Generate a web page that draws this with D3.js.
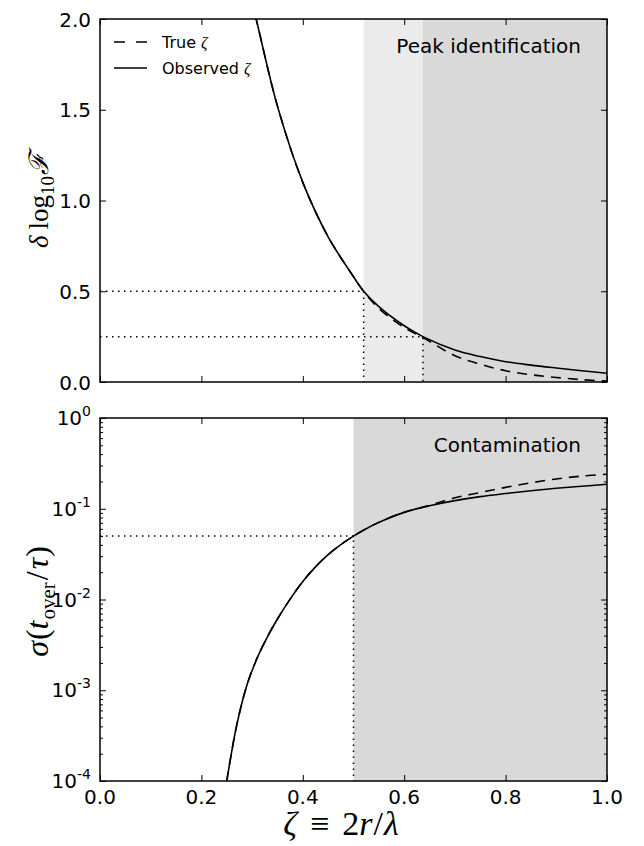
<!DOCTYPE html>
<html>
<head>
<meta charset="utf-8">
<script src="https://cdn.jsdelivr.net/npm/d3@7"></script>
<style>
    body { margin: 0; background: #fff; }
    svg { display: block; }
    .tick-label { font-family: "DejaVu Sans", sans-serif; font-size: 20px; fill: #000; }
    .math { font-family: "Liberation Serif", "DejaVu Serif", serif; fill: #000; }
</style>
</head>
<body>
<div class="chart"></div>
<script>
/* ---------------------------------------------------- +/

## Chart data ##

Values

/+ ---------------------------------------------------- */

// Top panel: delta log10 F against zeta
var topZeta     = [0.29, 0.308, 0.35, 0.40, 0.45, 0.50, 0.52, 0.55, 0.60, 0.637, 0.70, 0.75, 0.80, 0.85, 0.90, 0.95, 1.00];
var topObserved = [2.20, 2.00, 1.52, 1.10, 0.80, 0.58, 0.50, 0.415, 0.31, 0.25, 0.176, 0.140, 0.112, 0.093, 0.077, 0.062, 0.048];
var topTrue     = [2.20, 2.00, 1.52, 1.10, 0.80, 0.58, 0.50, 0.405, 0.30, 0.245, 0.145, 0.098, 0.062, 0.040, 0.025, 0.013, 0.005];

// Bottom panel: sigma(t_over / tau) against zeta
var botZeta     = [0.24, 0.25, 0.27, 0.29, 0.31, 0.33, 0.35, 0.375, 0.40, 0.425, 0.45, 0.475, 0.50, 0.525, 0.55, 0.60, 0.65, 0.70, 0.75, 0.80, 0.85, 0.90, 0.95, 1.00];
var botObserved = [4.2e-5, 1.0e-4, 4.2e-4, 1.15e-3, 2.27e-3, 3.86e-3, 6.1e-3, 1.01e-2, 0.0158, 0.0229, 0.0313, 0.0403, 0.050, 0.0603, 0.0708, 0.0912, 0.108, 0.123, 0.136, 0.147, 0.158, 0.168, 0.177, 0.186];
var botTrue     = [4.2e-5, 1.0e-4, 4.2e-4, 1.15e-3, 2.27e-3, 3.86e-3, 6.1e-3, 1.01e-2, 0.0158, 0.0229, 0.0313, 0.0403, 0.050, 0.0603, 0.0708, 0.0915, 0.109, 0.132, 0.151, 0.172, 0.193, 0.213, 0.229, 0.240];

// Shaded zones and threshold guides
var peakZones   = [[0.52, 1.0], [0.637, 1.0]];
var peakGuides  = [[0.52, 0.5], [0.637, 0.25]];
var contamZone  = [0.5, 1.0];
var contamGuide = [0.5, 0.05];

// Tick labels
var xTicks    = [0.0, 0.2, 0.4, 0.6, 0.8, 1.0];
var topYTicks = [0.0, 0.5, 1.0, 1.5, 2.0];
var botYTicks = [1e-4, 1e-3, 1e-2, 1e-1, 1];

var legendItems = [
    { name: 'True', dash: '11,11' },
    { name: 'Observed', dash: null }
];

/**
 * Setup canvas
 */
var width = 644;
var height = 846;
var left = 100, right = 607;
var topPanel = { y0: 19, y1: 382 };
var botPanel = { y0: 418, y1: 781 };

var svg = d3.select(".chart").append("svg")
    .attr("width", width)
    .attr("height", height);

var x = d3.scaleLinear().domain([0, 1]).range([left, right]);
var yTop = d3.scaleLinear().domain([0, 2]).range([topPanel.y1, topPanel.y0]);
var yBot = d3.scaleLog().domain([1e-4, 1]).range([botPanel.y1, botPanel.y0]);

var defs = svg.append("defs");
[['clipTop', topPanel], ['clipBot', botPanel]].forEach(function (c) {
    defs.append("clipPath").attr("id", c[0])
      .append("rect")
        .attr("x", left).attr("y", c[1].y0)
        .attr("width", right - left).attr("height", c[1].y1 - c[1].y0);
});

/**
 * Top panel
 */
var gTop = svg.append("g");

// Shaded zones (light then dark)
gTop.selectAll("rect.zone")
    .data(peakZones)
  .enter().append("rect")
    .attr("class", "zone")
    .attr("x", function (d) { return x(d[0]); })
    .attr("y", topPanel.y0)
    .attr("width", function (d) { return x(d[1]) - x(d[0]); })
    .attr("height", topPanel.y1 - topPanel.y0)
    .style("fill", function (d, i) { return i === 0 ? "#ebebeb" : "#d9d9d9"; });

// Dotted guides
peakGuides.forEach(function (g) {
    gTop.append("path")
        .attr("d", "M" + x(0) + "," + yTop(g[1]) + "H" + x(g[0]) + "V" + yTop(0))
        .style("fill", "none")
        .style("stroke", "#000")
        .style("stroke-width", 1.5)
        .style("stroke-dasharray", "1.5,4.5");
});

drawCurves(gTop, topZeta, topTrue, topObserved, yTop, "clipTop");

gTop.append("text")
    .attr("class", "tick-label")
    .attr("x", 581).attr("y", 53)
    .attr("text-anchor", "end")
    .text("Peak identification");

// Legend
var legend = gTop.selectAll("g.legend")
    .data(legendItems)
  .enter().append("g")
    .attr("class", "legend")
    .attr("transform", function (d, i) { return "translate(114," + (42 + i * 26) + ")"; });

legend.append("line")
    .attr("x1", 0).attr("x2", 33)
    .style("stroke", "#000")
    .style("stroke-width", 1.5)
    .style("stroke-dasharray", function (d) { return d.dash; });

var legendText = legend.append("text")
    .attr("x", 48).attr("y", 5.5)
    .style("font-family", "DejaVu Sans, sans-serif")
    .style("font-size", "16px")
    .text(function (d) { return d.name + " "; });
legendText.append("tspan")
    .attr("class", "math")
    .style("font-style", "italic")
    .text("ζ");

drawAxes(gTop, yTop, topPanel, d3.axisLeft(yTop).tickValues(topYTicks).tickFormat(d3.format(".1f")), false);

/**
 * Bottom panel
 */
var gBot = svg.append("g");

gBot.append("rect")
    .attr("x", x(contamZone[0]))
    .attr("y", botPanel.y0)
    .attr("width", x(contamZone[1]) - x(contamZone[0]))
    .attr("height", botPanel.y1 - botPanel.y0)
    .style("fill", "#d9d9d9");

gBot.append("path")
    .attr("d", "M" + x(0) + "," + yBot(contamGuide[1]) + "H" + x(contamGuide[0]) + "V" + botPanel.y1)
    .style("fill", "none")
    .style("stroke", "#000")
    .style("stroke-width", 1.5)
    .style("stroke-dasharray", "1.5,4.5");

drawCurves(gBot, botZeta, botTrue, botObserved, yBot, "clipBot");

gBot.append("text")
    .attr("class", "tick-label")
    .attr("x", 581).attr("y", 452)
    .attr("text-anchor", "end")
    .text("Contamination");

drawAxes(gBot, yBot, botPanel, d3.axisLeft(yBot).tickValues(botYTicks).tickFormat(""), true);

// Power-of-ten labels
botYTicks.forEach(function (v) {
    var exp = Math.round(Math.log10(v));
    var t = gBot.append("text")
        .attr("class", "tick-label")
        .attr("x", left - 9)
        .attr("y", yBot(v) + 7)
        .attr("text-anchor", "end");
    t.append("tspan").text("10");
    t.append("tspan")
        .attr("dy", -9)
        .style("font-size", "14px")
        .text(exp === 0 ? "0" : "-" + Math.abs(exp));
});

// x tick labels (bottom only)
gBot.selectAll("text.xlab")
    .data(xTicks)
  .enter().append("text")
    .attr("class", "tick-label xlab")
    .attr("x", function (d) { return x(d); })
    .attr("y", botPanel.y1 + 23)
    .attr("text-anchor", "middle")
    .text(d3.format(".1f"));

/**
 * Axis titles (math-ish, serif)
 */
var xTitle = svg.append("text")
    .attr("class", "math")
    .attr("x", 341).attr("y", 835)
    .attr("text-anchor", "middle")
    .style("font-size", "34px");
xTitle.append("tspan").style("font-style", "italic").text("ζ");
xTitle.append("tspan").attr("dx", 13).text("≡");
xTitle.append("tspan").attr("dx", 13).text("2");
xTitle.append("tspan").style("font-style", "italic").text("r");
xTitle.append("tspan").attr("dx", 1).text("/");
xTitle.append("tspan").attr("dx", 1).style("font-style", "italic").text("λ");

var yTitleTop = svg.append("text")
    .attr("class", "math")
    .attr("transform", "translate(48," + ((topPanel.y0 + topPanel.y1) / 2) + ") rotate(-90)")
    .attr("text-anchor", "middle")
    .style("font-size", "27px");
yTitleTop.append("tspan").style("font-style", "italic").text("δ");
yTitleTop.append("tspan").attr("dx", 6).text("log");
yTitleTop.append("tspan").attr("dy", 6).style("font-size", "19px").text("10");
yTitleTop.append("tspan").attr("dy", -6).attr("dx", 1).style("font-style", "italic").text("ℱ");

var yTitleBot = svg.append("text")
    .attr("class", "math")
    .attr("transform", "translate(48," + ((botPanel.y0 + botPanel.y1) / 2 + 2) + ") rotate(-90)")
    .attr("text-anchor", "middle")
    .style("font-size", "32px");
yTitleBot.append("tspan").style("font-style", "italic").text("σ");
yTitleBot.append("tspan").attr("dx", 1).text("(");
yTitleBot.append("tspan").style("font-style", "italic").text("t");
yTitleBot.append("tspan").attr("dy", 7).attr("dx", 1).style("font-size", "21px").text("over");
yTitleBot.append("tspan").attr("dy", -7).attr("dx", 2).text("/");
yTitleBot.append("tspan").attr("dx", 2).style("font-style", "italic").text("τ");
yTitleBot.append("tspan").attr("dx", 1).text(")");

/**
 * Draw the dashed (true) and solid (observed) curves
 */
function drawCurves(g, xs, trueVals, obsVals, yScale, clipId) {
    var line = d3.line()
        .x(function (d) { return x(d[0]); })
        .y(function (d) { return yScale(d[1]); })
        .curve(d3.curveCatmullRom.alpha(0.5));

    var curves = g.append("g").attr("clip-path", "url(#" + clipId + ")");

    curves.append("path")
        .attr("d", line(d3.zip(xs, trueVals)))
        .style("fill", "none")
        .style("stroke", "#000")
        .style("stroke-width", 1.6)
        .style("stroke-dasharray", "10,7");

    curves.append("path")
        .attr("d", line(d3.zip(xs, obsVals)))
        .style("fill", "none")
        .style("stroke", "#000")
        .style("stroke-width", 1.6);
}

/**
 * Frame plus inward ticks on all four sides
 */
function drawAxes(g, yScale, panel, leftAxis, isLog) {
    var tick = 6;

    var axes = [
        { axis: leftAxis.tickSize(-tick), tr: "translate(" + left + ",0)" },
        { axis: d3.axisRight(yScale).tickValues(leftAxis.tickValues()).tickSize(-tick).tickFormat(""), tr: "translate(" + right + ",0)" },
        { axis: d3.axisBottom(x).tickValues(xTicks).tickSize(-tick).tickFormat(""), tr: "translate(0," + panel.y1 + ")" },
        { axis: d3.axisTop(x).tickValues(xTicks).tickSize(-tick).tickFormat(""), tr: "translate(0," + panel.y0 + ")" }
    ];

    if (isLog) {
        var minors = [];
        [1e-4, 1e-3, 1e-2, 1e-1].forEach(function (d) {
            for (var m = 2; m < 10; m++) minors.push(d * m);
        });
        axes.push({ axis: d3.axisLeft(yScale).tickValues(minors).tickSize(-3).tickFormat(""), tr: "translate(" + left + ",0)" });
        axes.push({ axis: d3.axisRight(yScale).tickValues(minors).tickSize(-3).tickFormat(""), tr: "translate(" + right + ",0)" });
    }

    axes.forEach(function (a) {
        var ag = g.append("g")
            .attr("transform", a.tr)
            .call(a.axis.tickPadding(9));
        ag.select(".domain").remove();
        ag.selectAll(".tick line").style("stroke", "#000").style("stroke-width", 1);
        ag.selectAll(".tick text")
            .attr("class", "tick-label")
            .style("font-family", null).style("font-size", null)
            .attr("dy", "0.36em");
    });

    g.append("rect")
        .attr("x", left).attr("y", panel.y0)
        .attr("width", right - left).attr("height", panel.y1 - panel.y0)
        .style("fill", "none")
        .style("stroke", "#000")
        .style("stroke-width", 1.5);
}
</script>
</body>
</html>
